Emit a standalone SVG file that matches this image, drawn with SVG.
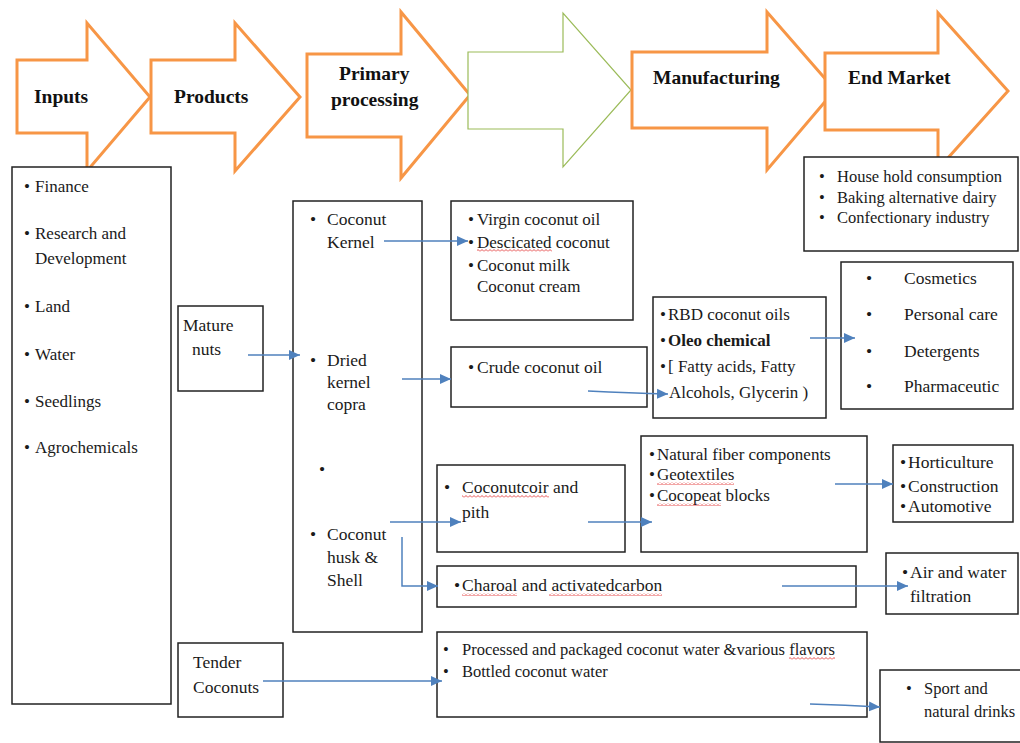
<svg xmlns="http://www.w3.org/2000/svg" width="1020" height="743" viewBox="0 0 1020 743">
<style>
.ba{fill:#fff;stroke:#F79646;stroke-width:3;stroke-linejoin:miter}
.bg{fill:#fff;stroke:#9BBB59;stroke-width:1.2}
.bx{fill:#fff;stroke:#222;stroke-width:1.5}
.h{font-family:"Liberation Serif","Times New Roman",serif;font-weight:bold;font-size:19.5px;fill:#111}
.t{font-family:"Liberation Serif","Times New Roman",serif;font-size:17px;fill:#1a1a1a}
.s{font-size:16.5px}
.m{font-size:17.5px}
.b{font-weight:bold}
.c{fill:none;stroke:#4F81BD;stroke-width:1.5}
</style>
<defs>
<marker id="ah" markerUnits="userSpaceOnUse" markerWidth="12" markerHeight="12" refX="11" refY="6" orient="auto">
<path d="M0,1 L11,6 L0,11 z" fill="#4F81BD"/>
</marker>
<pattern id="sq" patternUnits="userSpaceOnUse" width="4" height="3">
<polyline points="0,2.5 2,0.5 4,2.5" fill="none" stroke="#e02020" stroke-width="0.8"/>
</pattern>
</defs>

<g id="stages">
<g id="stage-inputs"><polygon class="ba" points="17,60 87,60 87,23 150,97 87,171 87,133 17,133"/><text class="h" x="34" y="103">Inputs</text></g>
<g id="stage-products"><polygon class="ba" points="151,60 235,60 235,23 300,97 235,171 235,133 151,133"/><text class="h" x="174" y="103">Products</text></g>
<g id="stage-primary"><polygon class="ba" points="307,54 401,54 401,12 470,95 401,178 401,137 307,137"/><text class="h" x="339" y="80">Primary</text><text class="h" x="331" y="106">processing</text></g>
<g id="stage-blank"><polygon class="bg" points="468,52 563,52 563,13 631,90 563,167 563,129 468,129"/></g>
<g id="stage-manufacturing"><polygon class="ba" points="632,52 767,52 767,12 835,90 767,170 767,128 632,128"/><text class="h" x="653" y="84">Manufacturing</text></g>
<g id="stage-endmarket"><polygon class="ba" points="825,53 938,53 938,13 1008,91 938,169 938,130 825,130"/><text class="h" x="848" y="84">End Market</text></g>
</g>

<g id="inputs-list"><rect class="bx" x="12" y="167" width="159" height="537"/>
<text class="t"><tspan x="24" y="192">•</tspan><tspan x="35" y="192">Finance</tspan>
<tspan x="24" y="239">•</tspan><tspan x="35" y="239">Research and</tspan>
<tspan x="35" y="264">Development</tspan>
<tspan x="24" y="312">•</tspan><tspan x="35" y="312">Land</tspan>
<tspan x="24" y="360">•</tspan><tspan x="35" y="360">Water</tspan>
<tspan x="24" y="407">•</tspan><tspan x="35" y="407">Seedlings</tspan>
<tspan x="24" y="453">•</tspan><tspan x="35" y="453">Agrochemicals</tspan></text></g>

<g id="mature-nuts"><rect class="bx" x="178" y="306" width="85" height="85"/>
<text class="t m"><tspan x="183" y="331">Mature</tspan><tspan x="192" y="355">nuts</tspan></text></g>

<g id="tender-coconuts"><rect class="bx" x="178" y="643" width="105" height="74"/>
<text class="t m"><tspan x="193" y="668">Tender</tspan><tspan x="193" y="693">Coconuts</tspan></text></g>

<g id="primary-box"><rect class="bx" x="293" y="201" width="129" height="431"/>
<text class="t m"><tspan x="310" y="225">•</tspan><tspan x="327" y="225">Coconut</tspan>
<tspan x="327" y="248">Kernel</tspan>
<tspan x="310" y="366">•</tspan><tspan x="327" y="366">Dried</tspan>
<tspan x="327" y="388">kernel</tspan>
<tspan x="327" y="410">copra</tspan>
<tspan x="319" y="475">•</tspan>
<tspan x="310" y="540">•</tspan><tspan x="327" y="540">Coconut</tspan>
<tspan x="327" y="563">husk &amp;</tspan>
<tspan x="327" y="586">Shell</tspan></text></g>

<g id="kernel-products"><rect class="bx" x="451" y="201" width="182" height="119"/>
<text class="t"><tspan x="468" y="225">•</tspan><tspan x="477" y="225">Virgin coconut oil</tspan>
<tspan x="468" y="248">•</tspan><tspan x="477" y="248">Descicated coconut</tspan>
<tspan x="468" y="271">•</tspan><tspan x="477" y="271">Coconut milk</tspan>
<tspan x="477" y="292">Coconut cream</tspan></text>
<rect x="477" y="249" width="75" height="3" fill="url(#sq)"/></g>

<g id="crude-oil"><rect class="bx" x="451" y="347" width="196" height="60"/>
<text class="t m"><tspan x="468" y="373">•</tspan><tspan x="477" y="373">Crude coconut oil</tspan></text></g>

<g id="rbd"><rect class="bx" x="653" y="297" width="173" height="121"/>
<text class="t"><tspan x="660" y="320">•</tspan><tspan x="668" y="320">RBD coconut oils</tspan>
<tspan x="660" y="346">•</tspan><tspan x="668" y="346" class="b">Oleo chemical</tspan>
<tspan x="660" y="372">•</tspan><tspan x="668" y="372">[ Fatty acids, Fatty</tspan>
<tspan x="669" y="398">Alcohols, Glycerin )</tspan></text></g>

<g id="cosmetics"><rect class="bx" x="841" y="262" width="172" height="147"/>
<text class="t m"><tspan x="866" y="284">•</tspan><tspan x="904" y="284">Cosmetics</tspan>
<tspan x="866" y="320">•</tspan><tspan x="904" y="320">Personal care</tspan>
<tspan x="866" y="357">•</tspan><tspan x="904" y="357">Detergents</tspan>
<tspan x="866" y="392">•</tspan><tspan x="904" y="392">Pharmaceutic</tspan></text></g>

<g id="end-market-box"><rect class="bx" x="804" y="157" width="214" height="94"/>
<text class="t s"><tspan x="819" y="182">•</tspan><tspan x="837" y="182">House hold consumption</tspan>
<tspan x="819" y="203">•</tspan><tspan x="837" y="203">Baking alternative dairy</tspan>
<tspan x="819" y="223">•</tspan><tspan x="837" y="223">Confectionary industry</tspan></text></g>

<g id="coir"><rect class="bx" x="437" y="465" width="188" height="87"/>
<text class="t m"><tspan x="444" y="493">•</tspan><tspan x="462" y="493">Coconutcoir and</tspan>
<tspan x="462" y="518">pith</tspan></text>
<rect x="462" y="495" width="87" height="3" fill="url(#sq)"/></g>

<g id="fiber"><rect class="bx" x="641" y="436" width="226" height="116"/>
<text class="t"><tspan x="649" y="460">•</tspan><tspan x="657" y="460">Natural fiber components</tspan>
<tspan x="649" y="480">•</tspan><tspan x="657" y="480">Geotextiles</tspan>
<tspan x="649" y="501">•</tspan><tspan x="657" y="501">Cocopeat blocks</tspan></text>
<rect x="657" y="482" width="77" height="3" fill="url(#sq)"/>
<rect x="657" y="503" width="64" height="3" fill="url(#sq)"/></g>

<g id="horticulture"><rect class="bx" x="893" y="445" width="120" height="77"/>
<text class="t m"><tspan x="900" y="468">•</tspan><tspan x="908" y="468">Horticulture</tspan>
<tspan x="900" y="492">•</tspan><tspan x="908" y="492">Construction</tspan>
<tspan x="900" y="512">•</tspan><tspan x="908" y="512">Automotive</tspan></text></g>

<g id="charcoal"><rect class="bx" x="437" y="566" width="419" height="41"/>
<text class="t m"><tspan x="454" y="591">•</tspan><tspan x="462" y="591">Charoal and activatedcarbon</tspan></text>
<rect x="462" y="593" width="55" height="3" fill="url(#sq)"/>
<rect x="549" y="593" width="113" height="3" fill="url(#sq)"/></g>

<g id="filtration"><rect class="bx" x="886" y="553" width="132" height="61"/>
<text class="t m"><tspan x="902" y="578">•</tspan><tspan x="910" y="578">Air and water</tspan>
<tspan x="910" y="602">filtration</tspan></text></g>

<g id="coconut-water"><rect class="bx" x="437" y="632" width="430" height="85"/>
<text class="t s"><tspan x="443" y="655">•</tspan><tspan x="462" y="655">Processed and packaged coconut water &amp;various flavors</tspan>
<tspan x="443" y="677">•</tspan><tspan x="462" y="677">Bottled coconut water</tspan></text>
<rect x="789" y="657" width="46" height="3" fill="url(#sq)"/></g>

<g id="sport-drinks"><rect class="bx" x="880" y="670" width="145" height="72"/>
<text class="t s"><tspan x="906" y="694">•</tspan><tspan x="924" y="694">Sport and</tspan>
<tspan x="924" y="717">natural drinks</tspan></text></g>

<g id="connectors">
<line class="c" x1="248" y1="355" x2="300" y2="355" marker-end="url(#ah)"/>
<line class="c" x1="384" y1="241" x2="468" y2="241" marker-end="url(#ah)"/>
<line class="c" x1="402" y1="379" x2="451" y2="379" marker-end="url(#ah)"/>
<path class="c" d="M588,391 Q630,393 668,394" marker-end="url(#ah)"/>
<line class="c" x1="810" y1="338" x2="855" y2="338" marker-end="url(#ah)"/>
<line class="c" x1="390" y1="522" x2="461" y2="522" marker-end="url(#ah)"/>
<line class="c" x1="588" y1="522" x2="652" y2="522" marker-end="url(#ah)"/>
<polyline class="c" points="402,537 402,586 438,586" marker-end="url(#ah)"/>
<line class="c" x1="835" y1="484" x2="893" y2="484" marker-end="url(#ah)"/>
<line class="c" x1="782" y1="586" x2="908" y2="586" marker-end="url(#ah)"/>
<line class="c" x1="263" y1="681" x2="442" y2="681" marker-end="url(#ah)"/>
<path class="c" d="M810,704 Q845,705 880,707" marker-end="url(#ah)"/>
</g>
</svg>
